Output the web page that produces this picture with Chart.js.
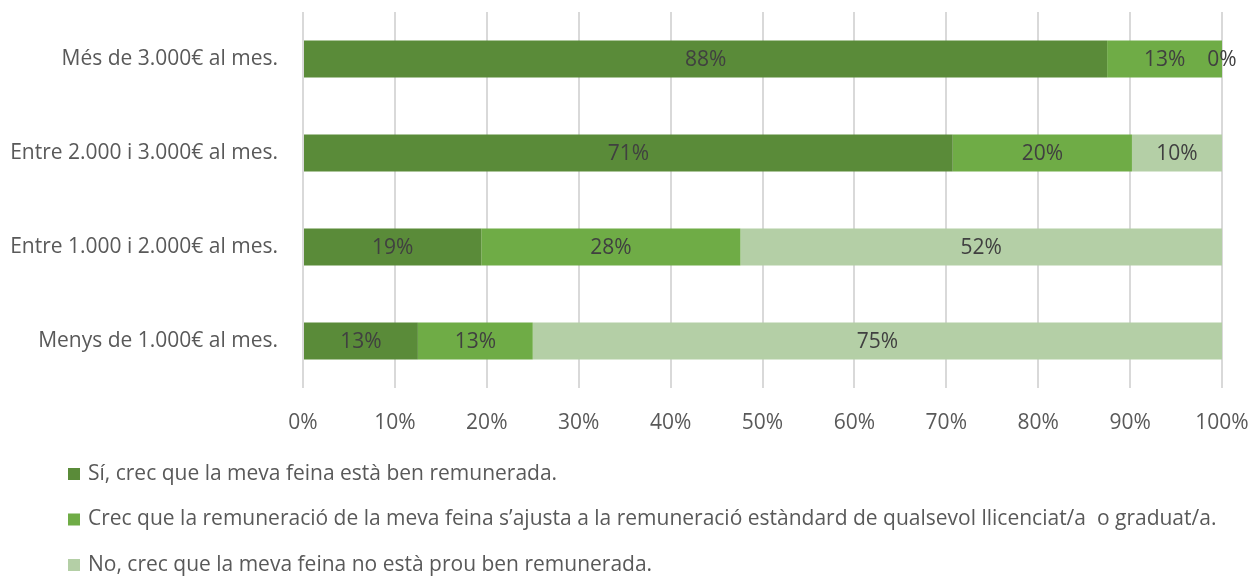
<!DOCTYPE html>
<html>
<head>
<meta charset="utf-8">
<title>Remuneració</title>
<script src="https://cdn.jsdelivr.net/npm/chart.js@4.4.0/dist/chart.umd.min.js"></script>
<style>
    html, body { margin: 0; padding: 0; background: #ffffff; }
    #wrap { width: 1258px; height: 576px; }
</style>
</head>
<body>
<div id="wrap"><canvas id="barChart" width="1258" height="576"></canvas></div>
<script>
// categories, top to bottom
var categories = [
    "Més de 3.000€ al mes.",
    "Entre 2.000 i 3.000€ al mes.",
    "Entre 1.000 i 2.000€ al mes.",
    "Menys de 1.000€ al mes."
];

var seriesNames = [
    "Sí, crec que la meva feina està ben remunerada.",
    "Crec que la remuneració de la meva feina s’ajusta a la remuneració estàndard de qualsevol llicenciat/a  o graduat/a.",
    "No, crec que la meva feina no està prou ben remunerada."
];

// percent of each answer per category
var siValues = [87.5, 70.7, 19.4, 12.5];
var ajustaValues = [12.5, 19.5, 28.2, 12.5];
var noValues = [0, 9.8, 52.4, 75];

var tickValues = [0, 10, 20, 30, 40, 50, 60, 70, 80, 90, 100];

var seriesColors = ["#5A8B39", "#6FAC46", "#B4CFA6"];

var fontFamily = '"Open Sans", "Noto Sans", sans-serif';
var fontSize = 21;
var textColor = "#595959";

// draw the percent inside every bar segment
var segmentLabels = {
    id: 'segmentLabels',
    afterDatasetsDraw: function(chart) {
        var ctx = chart.ctx;
        ctx.save();
        ctx.font = fontSize + 'px ' + fontFamily;
        ctx.fillStyle = '#404040';
        ctx.textAlign = 'center';
        ctx.textBaseline = 'middle';
        chart.data.datasets.forEach(function(ds, i) {
            chart.getDatasetMeta(i).data.forEach(function(bar, j) {
                var c = bar.getCenterPoint();
                ctx.fillText(Math.round(ds.data[j]) + '%', c.x, c.y + 1);
            });
        });
        ctx.restore();
    }
};

// legend as a vertical list under the axis
var listLegend = {
    id: 'listLegend',
    afterDraw: function(chart) {
        var ctx = chart.ctx;
        var x = 68;
        var y = 474;
        var step = 45.5;
        ctx.save();
        ctx.font = fontSize + 'px ' + fontFamily;
        ctx.textAlign = 'left';
        ctx.textBaseline = 'middle';
        chart.data.datasets.forEach(function(ds, i) {
            ctx.fillStyle = ds.backgroundColor;
            ctx.fillRect(x, y + i * step - 6, 12, 12);
            ctx.fillStyle = textColor;
            ctx.fillText(ds.label, x + 20, y + i * step);
        });
        ctx.restore();
    }
};

function buildDatasets() {
    var lists = [siValues, ajustaValues, noValues];
    var datasets = [];
    for (var i = 0; i < lists.length; i++) {
        datasets.push({
            label: seriesNames[i],
            data: lists[i],
            backgroundColor: seriesColors[i],
            borderWidth: 0,
            barPercentage: 0.394,
            categoryPercentage: 1
        });
    }
    return datasets;
}

// the chart area is set by layout padding only
function clearScalePadding(scale) {
    scale.paddingTop = 0;
    scale.paddingBottom = 0;
    scale.paddingLeft = 0;
    scale.paddingRight = 0;
}

var chartSelector = document.getElementById('barChart');
var stackedChart = new Chart(chartSelector, {
    type: 'bar',
    data: {
        labels: categories,
        datasets: buildDatasets()
    },
    options: {
        indexAxis: 'y',
        responsive: false,
        animation: false,
        layout: {
            padding: { top: 12, right: 36, bottom: 140, left: 0 }
        },
        plugins: {
            legend: { display: false },
            tooltip: { enabled: false }
        },
        scales: {
            x: {
                stacked: true,
                min: 0,
                max: 100,
                afterBuildTicks: function(scale) {
                    scale.ticks = tickValues.map(function(v) { return { value: v }; });
                },
                afterFit: function(scale) {
                    scale.height = 48;
                    clearScalePadding(scale);
                },
                grid: { color: '#D9D9D9', lineWidth: 2, drawTicks: false },
                border: { display: false },
                ticks: {
                    padding: 22,
                    color: textColor,
                    font: { family: fontFamily, size: fontSize },
                    callback: function(v) { return v + '%'; }
                }
            },
            y: {
                stacked: true,
                afterFit: function(scale) {
                    scale.width = 303;
                    clearScalePadding(scale);
                },
                grid: { display: false, drawTicks: false },
                border: { display: false },
                ticks: {
                    padding: 25,
                    color: textColor,
                    font: { family: fontFamily, size: fontSize }
                }
            }
        }
    },
    plugins: [segmentLabels, listLegend]
});
</script>
</body>
</html>
